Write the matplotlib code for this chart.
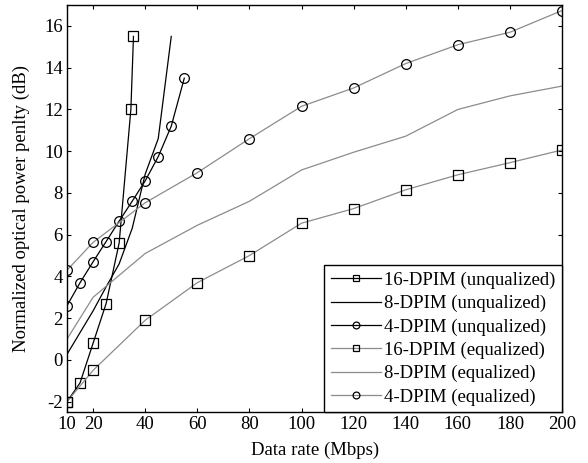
import numpy as np
import matplotlib
matplotlib.use("Agg")
import matplotlib.pyplot as plt

# data
x16_uneq = [10, 15, 20, 25, 30, 34.5, 35.5]
y16_uneq = [-2.0, -1.1, 0.8, 2.7, 5.6, 12.0, 15.5]

x8_uneq = [10, 20, 25, 30, 35, 40, 45, 50]
y8_uneq = [0.27, 2.35, 3.5, 4.6, 6.3, 8.9, 10.6, 15.5]

x4_uneq = [10, 15, 20, 25, 30, 35, 40, 45, 50, 55]
y4_uneq = [2.6, 3.7, 4.7, 5.67, 6.65, 7.6, 8.58, 9.74, 11.2, 13.5]

x_eq = [10, 20, 40, 60, 80, 100, 120, 140, 160, 180, 200]
y16_eq = [-2.0, -0.5, 1.9, 3.7, 5.0, 6.55, 7.25, 8.15, 8.87, 9.45, 10.06]
y8_eq = [1.0, 3.0, 5.1, 6.45, 7.6, 9.1, 9.95, 10.72, 12.0, 12.65, 13.12]
y4_eq = [4.3, 5.63, 7.53, 8.97, 10.6, 12.15, 13.03, 14.2, 15.1, 15.7, 16.74]

xticks = [10, 20, 40, 60, 80, 100, 120, 140, 160, 180, 200]
yticks = [-2, 0, 2, 4, 6, 8, 10, 12, 14, 16]

plt.rcParams['font.family'] = ['Liberation Serif', 'DejaVu Serif']
plt.rcParams['font.size'] = 13.5
plt.rcParams['axes.unicode_minus'] = False

fig = plt.figure(figsize=(5.88, 4.63), dpi=100)
ax = fig.add_axes([0.114, 0.110, 0.842, 0.879])

gray = '0.55'
ms = 7
ax.plot(x16_uneq, y16_uneq, color='k', lw=0.9, marker='s', ms=ms, mfc='none',
        mec='k', mew=0.9, label='16-DPIM (unqualized)')
ax.plot(x8_uneq, y8_uneq, color='k', lw=0.9, label='8-DPIM (unqualized)')
ax.plot(x4_uneq, y4_uneq, color='k', lw=0.9, marker='o', ms=ms, mfc='none',
        mec='k', mew=0.9, label='4-DPIM (unqualized)')
ax.plot(x_eq, y16_eq, color=gray, lw=0.9, marker='s', ms=ms, mfc='none',
        mec='k', mew=0.9, label='16-DPIM (equalized)')
ax.plot(x_eq, y8_eq, color=gray, lw=0.9, label='8-DPIM (equalized)')
ax.plot(x_eq, y4_eq, color=gray, lw=0.9, marker='o', ms=ms, mfc='none',
        mec='k', mew=0.9, label='4-DPIM (equalized)')

ax.set_xlim(10, 200)
ax.set_ylim(-2.5, 17)
ax.set_xticks(xticks)
ax.set_yticks(yticks)
ax.tick_params(direction='in', top=True, right=True, length=3, width=0.8, pad=3)
for s in ax.spines.values():
    s.set_linewidth(1.0)

ax.set_xlabel('Data rate (Mbps)', labelpad=6)
ax.set_ylabel('Normalized optical power penlty (dB)', labelpad=10)

leg = ax.legend(loc='lower right', borderaxespad=0, fancybox=False,
                edgecolor='k', framealpha=1, handlelength=2.7,
                handletextpad=0.15, labelspacing=0.32, borderpad=0.35,
                markerscale=0.7)
leg.get_frame().set_linewidth(1.0)

fig.savefig('out.png', dpi=100)
